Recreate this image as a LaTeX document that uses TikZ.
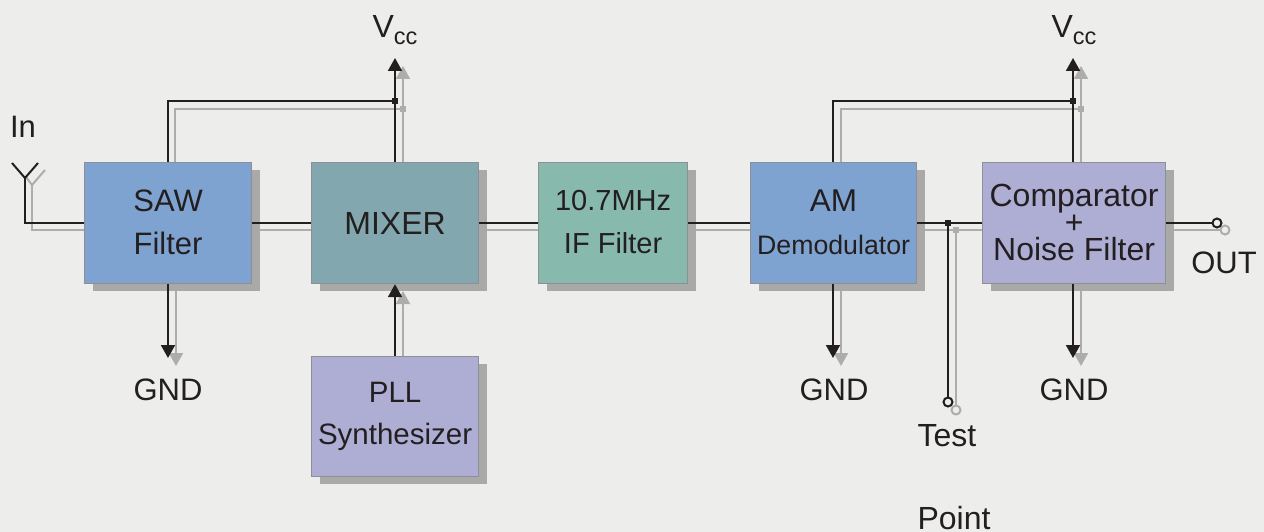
\documentclass[tikz,border=0pt]{standalone}
\usepackage{fontspec}
\setmainfont{Liberation Sans}
\usetikzlibrary{arrows.meta,shadows,backgrounds,calc}
\definecolor{bgc}{HTML}{EDEDEB}
\definecolor{inkc}{HTML}{231F20}
\definecolor{shc}{HTML}{A9A9A7}
\definecolor{ghost}{HTML}{ADADAB}
\definecolor{edgec}{HTML}{8C8F96}
\definecolor{bluec}{HTML}{7FA3D1}
\definecolor{tealc}{HTML}{82A7AF}
\definecolor{greenc}{HTML}{87B9AC}
\definecolor{lilac}{HTML}{AEAED5}
\newcommand{\fs}[2]{\fontsize{#1}{#2}\selectfont}
\newcommand{\up}[1]{\raisebox{2pt}{#1}}
\lineskiplimit=-100pt
\tikzset{
  x=1pt,y=-1pt,
  block/.style={draw=edgec,line width=1.2pt,rectangle,inner sep=0pt,align=center,text=inkc,
    minimum height=121pt,anchor=north west,
    copy shadow={shadow xshift=8pt,shadow yshift=-7pt,fill=shc,draw=none}},
  lbl/.style={text=inkc,inner sep=0pt,font=\fs{31}{36}},
  wire/.style={draw=inkc,line width=2pt},
  gwire/.style={draw=ghost,line width=2pt},
  tipb/.style={wire,-{Triangle[width=14pt,length=13pt]}},
  tipg/.style={gwire,-{Triangle[width=14pt,length=13pt]}},
  dot/.style={fill=inkc,draw=none,minimum size=6pt,inner sep=0pt,rectangle},
  gdot/.style={fill=ghost,draw=none,minimum size=6pt,inner sep=0pt,rectangle},
  term/.style={circle,draw=inkc,fill=bgc,line width=2pt,minimum size=9pt,inner sep=0pt},
  gterm/.style={circle,draw=ghost,fill=bgc,line width=2pt,minimum size=9pt,inner sep=0pt},
}
\begin{document}
\begin{tikzpicture}
\useasboundingbox (0,0) rectangle (1264,532);
\begin{scope}[on background layer]
\fill[bgc] (0,0) rectangle (1264,532);
% ghost connectors
\draw[gwire] (26,177) -- (32,185) -- (45,170);
\draw[gwire] (32,185) |- (84,230);
\draw[gwire] (175,162) |- (403,109);
\draw[tipg] (403,162) -- (403,66);
\draw[gwire] (841,162) |- (1081,109);
\draw[tipg] (1081,162) -- (1081,66);
\draw[gwire] (251,230) -- (311,230);
\draw[gwire] (478,230) -- (538,230);
\draw[gwire] (687,230) -- (750,230);
\draw[gwire] (916,230) -- (982,230);
\draw[gwire] (956,230) -- (956,410);
\draw[gwire] (1165,230) -- (1225,230);
\draw[tipg] (176,283) -- (176,366);
\draw[tipg] (841,283) -- (841,366);
\draw[tipg] (1081,283) -- (1081,366);
\draw[tipg] (403,356) -- (403,291);
\end{scope}
% blocks
\node[block,fill=bluec,minimum width=167pt,font=\fs{31}{43}] (saw) at (84,162) {\up{SAW}\\\up{Filter}};
\node[block,fill=tealc,minimum width=167pt,font=\fs{32}{38}] (mixer) at (311,162) {MIXER};
\node[block,fill=greenc,minimum width=149pt,font=\fs{29}{43}] (if) at (538,162) {\up{10.7MHz}\\\up{IF Filter}};
\node[block,fill=bluec,minimum width=166pt,font=\fs{31.5}{43}] (am) at (750,162) {\up{AM}\\\fs{26.7}{43}\up{Demodulator}};
\node[block,fill=lilac,minimum width=183pt,font=\fs{32}{27}] (comp) at (982,162) {\up{Comparator}\\\up{+}\\\up{Noise Filter}};
\node[block,fill=lilac,minimum width=167pt,minimum height=120pt,font=\fs{29.5}{42}] (pll) at (311,356) {PLL\\Synthesizer};
% labels
\node[lbl] (lin) at (23,127) {In};
\node[lbl,font=\fs{32}{36}] (vcca) at (395,30) {V\raisebox{-7pt}{\fs{23.5}{24}cc}};
\node[lbl,font=\fs{32}{36}] (vccb) at (1074,30) {V\raisebox{-7pt}{\fs{23.5}{24}cc}};
\node[lbl] (g1) at (168,390) {GND};
\node[lbl] (g2) at (834,390) {GND};
\node[lbl] (g3) at (1074,390) {GND};
\node[lbl] (lout) at (1224,263) {OUT};
\node[lbl,font=\fs{32}{36}] (ltest) at (947,436) {Test};
\node[lbl,font=\fs{32}{36}] (lpoint) at (954,518) {Point};
% free points
\coordinate (antb) at (25,178);
\coordinate (antbl) at (12,163);
\coordinate (antbr) at (38,163);
\coordinate (up1) at (395,58);
\coordinate (up2) at (1073,58);
\coordinate (d1) at (168,358);
\coordinate (d2) at (833,358);
\coordinate (d3) at (1073,358);
\coordinate (r1) at (168,101);
\coordinate (r2) at (833,101);
% black connectors
\draw[wire] (antbl) -- (antb) -- (antbr);
\draw[wire] (antb) |- (saw.west |- 0,223);
\draw[wire] (saw.north -| r1) |- (395,101);
\draw[tipb] (mixer.north -| up1) -- (up1);
\draw[wire] (am.north -| r2) |- (1073,101);
\draw[tipb] (comp.north -| up2) -- (up2);
\draw[wire] (saw.east |- 0,223) -- (mixer.west |- 0,223);
\draw[wire] (mixer.east |- 0,223) -- (if.west |- 0,223);
\draw[wire] (if.east |- 0,223) -- (am.west |- 0,223);
\draw[wire] (am.east |- 0,223) -- (comp.west |- 0,223);
\draw[wire] (948,223) -- (948,402);
\draw[wire] (comp.east |- 0,223) -- (1217,223);
\draw[tipb] (saw.south -| d1) -- (d1);
\draw[tipb] (am.south -| d2) -- (d2);
\draw[tipb] (comp.south -| d3) -- (d3);
\draw[tipb] (pll.north -| up1) -- (mixer.south -| up1);
% junctions and terminals
\node[gdot] (j1g) at (403,109) {};
\node[gdot] (j2g) at (1081,109) {};
\node[gdot] (j3g) at (956,230) {};
\node[gterm] (ttg) at (956,410) {};
\node[gterm] (tog) at (1225,230) {};
\node[dot] (j1) at (395,101) {};
\node[dot] (j2) at (1073,101) {};
\node[dot] (j3) at (948,223) {};
\node[term] (tt) at (948,402) {};
\node[term] (to) at (1217,223) {};
\end{tikzpicture}
\end{document}
